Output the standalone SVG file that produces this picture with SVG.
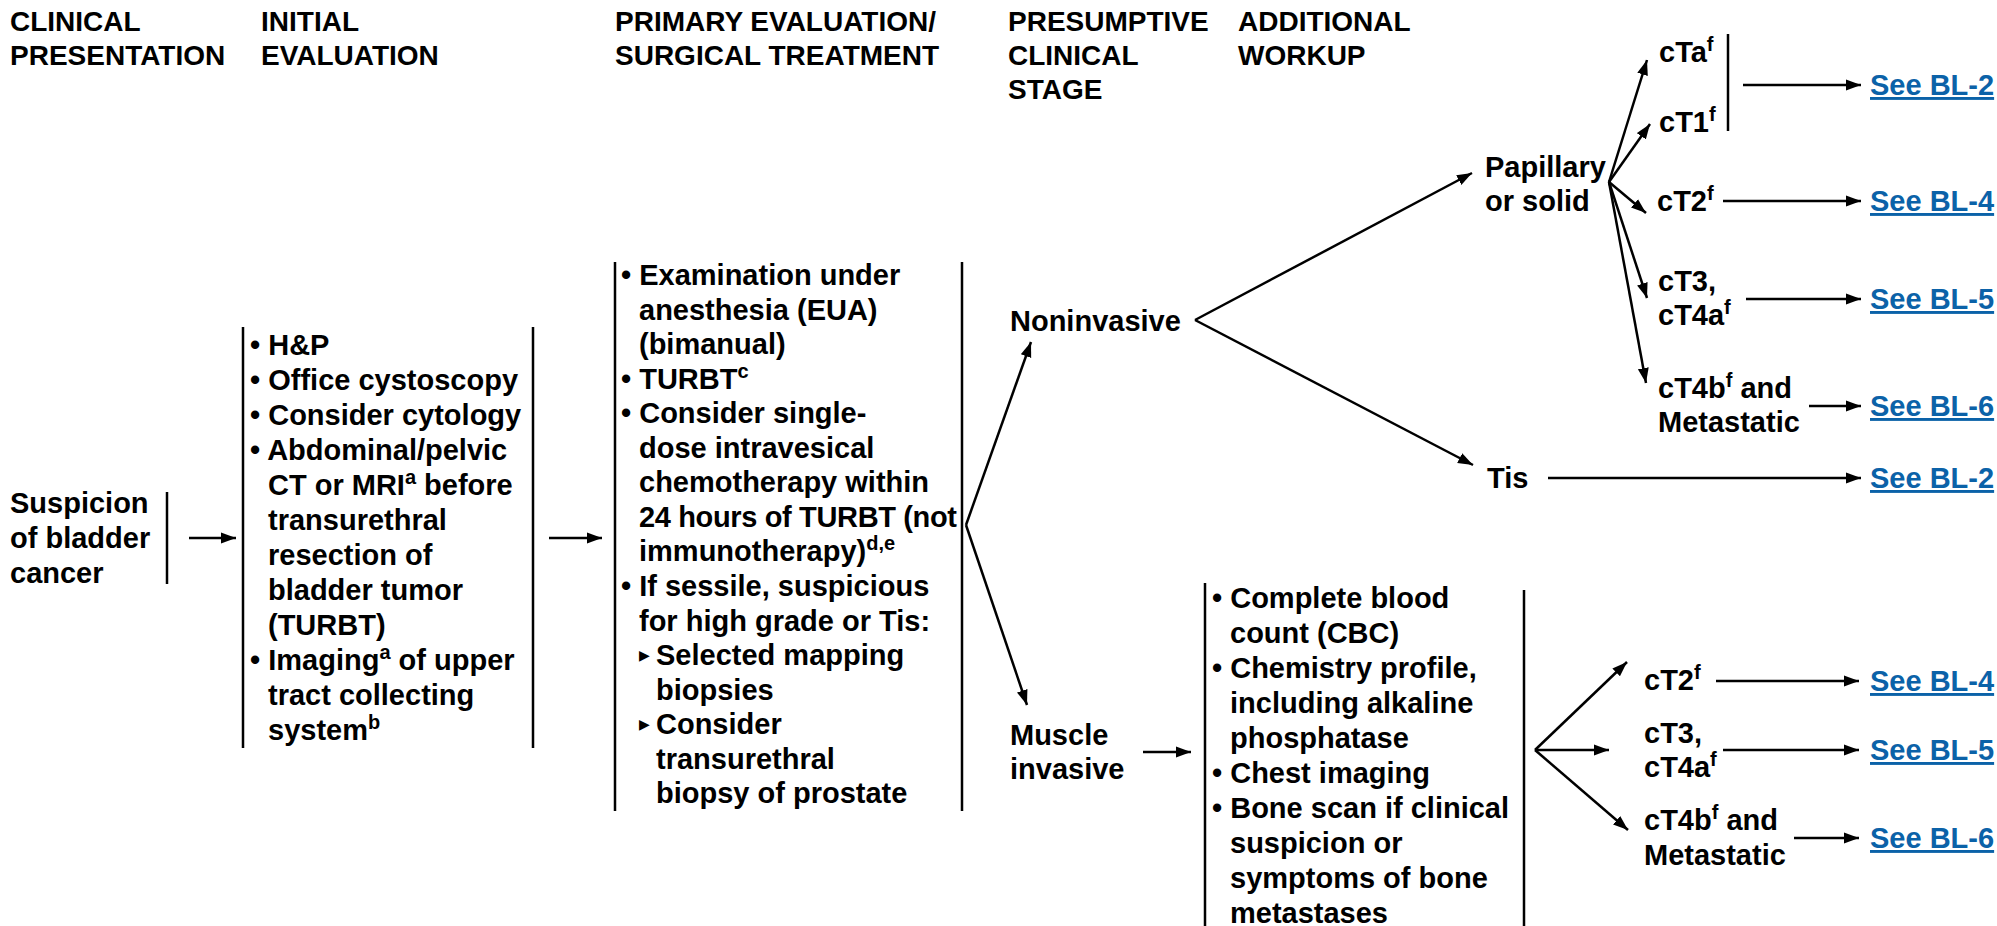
<svg xmlns="http://www.w3.org/2000/svg" width="1997" height="926" viewBox="0 0 1997 926">
<defs>
<style>
text{font-family:"Liberation Sans",Arial,Helvetica,sans-serif;font-weight:bold;font-size:29px;fill:#000}
.h{font-size:28px}
.lk{fill:#0b62a8;text-decoration:underline}
.sup{font-size:20px}
.tri{font-family:"DejaVu Sans",sans-serif;font-size:14px}
.bar{stroke:#000;stroke-width:2.5;fill:none}
.ca{stroke:#000;stroke-width:2.5;fill:none;marker-end:url(#ah)}
</style>
<marker id="ah" markerUnits="userSpaceOnUse" markerWidth="16" markerHeight="12" refX="15" refY="6" orient="auto">
<path d="M0,0.5 L15,6 L0,11.5 z" fill="#000"/>
</marker>
</defs>
<rect width="1997" height="926" fill="#fff"/>

<g id="column-headers">
<text class="h" x="10" y="31">CLINICAL</text>
<text class="h" x="10" y="65">PRESENTATION</text>
<text class="h" x="261" y="31">INITIAL</text>
<text class="h" x="261" y="65">EVALUATION</text>
<text class="h" x="615" y="31">PRIMARY EVALUATION/</text>
<text class="h" x="615" y="65">SURGICAL TREATMENT</text>
<text class="h" x="1008" y="31">PRESUMPTIVE</text>
<text class="h" x="1008" y="65">CLINICAL</text>
<text class="h" x="1008" y="99">STAGE</text>
<text class="h" x="1238" y="31">ADDITIONAL</text>
<text class="h" x="1238" y="65">WORKUP</text>
</g>

<g id="node-suspicion">
<text x="10" y="513">Suspicion</text>
<text x="10" y="548">of bladder</text>
<text x="10" y="583">cancer</text>
<line class="bar" x1="167" y1="492" x2="167" y2="584"/>
</g>

<g id="node-initial-evaluation">
<line class="bar" x1="243" y1="327" x2="243" y2="748"/>
<line class="bar" x1="533" y1="327" x2="533" y2="748"/>
<text x="250" y="355">• H&amp;P</text>
<text x="250" y="390">• Office cystoscopy</text>
<text x="250" y="425">• Consider cytology</text>
<text x="250" y="460">• Abdominal/pelvic</text>
<text x="268" y="495">CT or MRI<tspan class="sup" dy="-11">a</tspan><tspan dy="11"> before</tspan></text>
<text x="268" y="530">transurethral</text>
<text x="268" y="565">resection of</text>
<text x="268" y="600">bladder tumor</text>
<text x="268" y="635">(TURBT)</text>
<text x="250" y="670">• Imaging<tspan class="sup" dy="-11">a</tspan><tspan dy="11"> of upper</tspan></text>
<text x="268" y="705">tract collecting</text>
<text x="268" y="740">system<tspan class="sup" dy="-11">b</tspan></text>
</g>

<g id="node-primary-evaluation">
<line class="bar" x1="615" y1="262" x2="615" y2="811"/>
<line class="bar" x1="962" y1="262" x2="962" y2="811"/>
<text x="621" y="285">• Examination under</text>
<text x="639" y="320">anesthesia (EUA)</text>
<text x="639" y="354">(bimanual)</text>
<text x="621" y="389">• TURBT<tspan class="sup" dy="-11">c</tspan></text>
<text x="621" y="423">• Consider single-</text>
<text x="639" y="458">dose intravesical</text>
<text x="639" y="492">chemotherapy within</text>
<text x="639" y="527" textLength="318" lengthAdjust="spacing">24 hours of TURBT (not</text>
<text x="639" y="561">immunotherapy)<tspan class="sup" dy="-11">d,e</tspan></text>
<text x="621" y="596">• If sessile, suspicious</text>
<text x="639" y="631">for high grade or Tis:</text>
<text x="639" y="660"><tspan class="tri">▶</tspan><tspan x="656" y="665">Selected mapping</tspan></text>
<text x="656" y="700">biopsies</text>
<text x="639" y="729"><tspan class="tri">▶</tspan><tspan x="656" y="734">Consider</tspan></text>
<text x="656" y="769">transurethral</text>
<text x="656" y="803">biopsy of prostate</text>
</g>

<g id="node-noninvasive"><text x="1010" y="331">Noninvasive</text></g>
<g id="node-muscle-invasive">
<text x="1010" y="745">Muscle</text>
<text x="1010" y="779">invasive</text>
</g>
<g id="node-papillary"><text x="1485" y="177">Papillary</text><text x="1485" y="211">or solid</text></g>
<g id="node-tis"><text x="1487" y="488">Tis</text></g>

<g id="node-upper-stages">
<text x="1659" y="62">cTa<tspan class="sup" dy="-11">f</tspan></text>
<text x="1659" y="132">cT1<tspan class="sup" dy="-11">f</tspan></text>
<line class="bar" x1="1728" y1="34" x2="1728" y2="131"/>
<text x="1657" y="211">cT2<tspan class="sup" dy="-11">f</tspan></text>
<text x="1658" y="291">cT3,</text>
<text x="1658" y="325">cT4a<tspan class="sup" dy="-11">f</tspan></text>
<text x="1658" y="398">cT4b<tspan class="sup" dy="-11">f</tspan><tspan dy="11"> and</tspan></text>
<text x="1658" y="432">Metastatic</text>
</g>

<g id="node-workup">
<line class="bar" x1="1205" y1="583" x2="1205" y2="926"/>
<line class="bar" x1="1524" y1="590" x2="1524" y2="926"/>
<text x="1212" y="608">• Complete blood</text>
<text x="1230" y="643">count (CBC)</text>
<text x="1212" y="678">• Chemistry profile,</text>
<text x="1230" y="713">including alkaline</text>
<text x="1230" y="748">phosphatase</text>
<text x="1212" y="783">• Chest imaging</text>
<text x="1212" y="818">• Bone scan if clinical</text>
<text x="1230" y="853">suspicion or</text>
<text x="1230" y="888">symptoms of bone</text>
<text x="1230" y="923">metastases</text>
</g>

<g id="node-lower-stages">
<text x="1644" y="690">cT2<tspan class="sup" dy="-11">f</tspan></text>
<text x="1644" y="743">cT3,</text>
<text x="1644" y="777">cT4a<tspan class="sup" dy="-11">f</tspan></text>
<text x="1644" y="830">cT4b<tspan class="sup" dy="-11">f</tspan><tspan dy="11"> and</tspan></text>
<text x="1644" y="865">Metastatic</text>
</g>

<g id="node-links">
<text class="lk" x="1870" y="95">See BL-2</text>
<text class="lk" x="1870" y="211">See BL-4</text>
<text class="lk" x="1870" y="309">See BL-5</text>
<text class="lk" x="1870" y="416">See BL-6</text>
<text class="lk" x="1870" y="488">See BL-2</text>
<text class="lk" x="1870" y="691">See BL-4</text>
<text class="lk" x="1870" y="760">See BL-5</text>
<text class="lk" x="1870" y="848">See BL-6</text>
</g>

<g id="connectors">
<line class="ca" x1="189" y1="538" x2="236" y2="538"/>
<line class="ca" x1="549" y1="538" x2="602" y2="538"/>
<line class="ca" x1="966" y1="525" x2="1031" y2="342"/>
<line class="ca" x1="966" y1="525" x2="1027" y2="705"/>
<line class="ca" x1="1143" y1="752" x2="1191" y2="752"/>
<line class="ca" x1="1195" y1="320" x2="1472" y2="173"/>
<line class="ca" x1="1195" y1="320" x2="1473" y2="465"/>
<line class="ca" x1="1609" y1="182" x2="1647" y2="60"/>
<line class="ca" x1="1609" y1="182" x2="1650" y2="124"/>
<line class="ca" x1="1609" y1="182" x2="1646" y2="213"/>
<line class="ca" x1="1609" y1="182" x2="1647" y2="298"/>
<line class="ca" x1="1609" y1="182" x2="1646" y2="383"/>
<line class="ca" x1="1743" y1="85" x2="1861" y2="85"/>
<line class="ca" x1="1723" y1="201" x2="1861" y2="201"/>
<line class="ca" x1="1746" y1="299" x2="1861" y2="299"/>
<line class="ca" x1="1809" y1="406" x2="1861" y2="406"/>
<line class="ca" x1="1548" y1="478" x2="1861" y2="478"/>
<line class="ca" x1="1535" y1="750" x2="1627" y2="662"/>
<line class="ca" x1="1535" y1="750" x2="1609" y2="750"/>
<line class="ca" x1="1535" y1="750" x2="1628" y2="830"/>
<line class="ca" x1="1716" y1="681" x2="1859" y2="681"/>
<line class="ca" x1="1723" y1="750" x2="1859" y2="750"/>
<line class="ca" x1="1794" y1="838" x2="1859" y2="838"/>
</g>
</svg>
